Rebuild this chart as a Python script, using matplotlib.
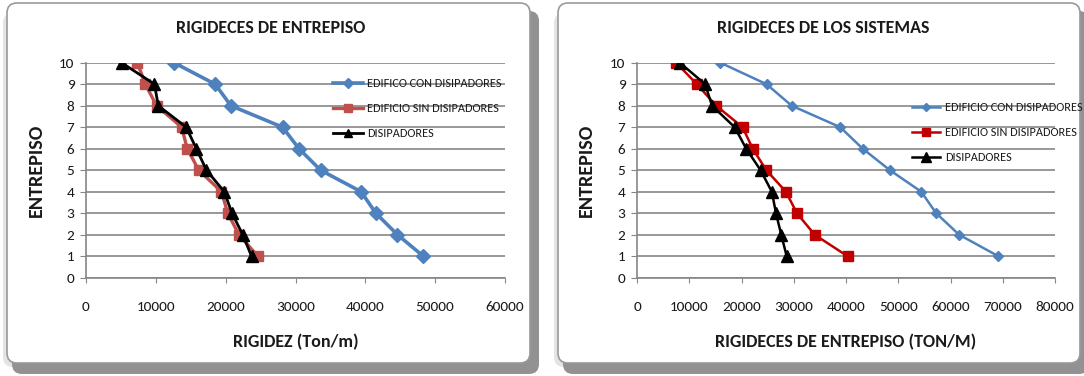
import matplotlib
matplotlib.use("Agg")
import matplotlib.pyplot as plt
from matplotlib.patches import FancyBboxPatch
import logging
logging.getLogger('matplotlib.font_manager').setLevel(logging.ERROR)

CAL = ['Carlito', 'IBM Plex Sans Condensed', 'Liberation Sans', 'DejaVu Sans']
plt.rcParams['font.family'] = CAL

# ---------------- data ----------------
pisos = [10, 9, 8, 7, 6, 5, 4, 3, 2, 1]

# Chart 1: RIGIDECES DE ENTREPISO
e_con = [12600, 18500, 20750, 28150, 30500, 33600, 39400, 41500, 44600, 48300]
e_sin = [7350, 8500, 10100, 13700, 14500, 16150, 19400, 20300, 21900, 24600]
e_dis = [5100, 9800, 10350, 14350, 15800, 17250, 19800, 20900, 22450, 23700]

# Chart 2: RIGIDECES DE LOS SISTEMAS
s_con = [15950, 24800, 29600, 38900, 43200, 48400, 54400, 57250, 61650, 69150]
s_sin = [7500, 11450, 15150, 20200, 22150, 24750, 28500, 30600, 34000, 40300]
s_dis = [8200, 13050, 14350, 18700, 20900, 23650, 25800, 26600, 27600, 28650]

y_ticks = [0, 1, 2, 3, 4, 5, 6, 7, 8, 9, 10]
x_ticks_1 = [0, 10000, 20000, 30000, 40000, 50000, 60000]
x_ticks_2 = [0, 10000, 20000, 30000, 40000, 50000, 60000, 70000, 80000]

labels_1 = ["EDIFICO CON DISIPADORES", "EDIFICIO SIN DISIPADORES", "DISIPADORES"]
labels_2 = ["EDIFICIO CON DISIPADORES", "EDIFICIO SIN DISIPADORES", "DISIPADORES"]

W, H = 1084, 376
fig = plt.figure(figsize=(W / 100, H / 100), dpi=100)
fig.patch.set_facecolor('white')

# ---------------- panel backgrounds ----------------
bg = fig.add_axes([0, 0, 1, 1], zorder=-10)
bg.set_xlim(0, W)
bg.set_ylim(H, 0)
bg.axis('off')


def panel(x0, y0, x1, y1):
    soft = FancyBboxPatch((x0 - 4, y0 + 10), x1 - x0, y1 - y0 - 6,
                          boxstyle='round,pad=0,rounding_size=10',
                          fc='#E4E4E4', ec='none')
    shadow = FancyBboxPatch((x0 + 5, y0 + 8), x1 - x0 + 4, y1 - y0 + 3,
                            boxstyle='round,pad=0,rounding_size=10',
                            fc='#929292', ec='none')
    box = FancyBboxPatch((x0, y0), x1 - x0, y1 - y0,
                         boxstyle='round,pad=0,rounding_size=10',
                         fc='white', ec='#9A9A9A', lw=1.2)
    for p in (soft, shadow, box):
        bg.add_patch(p)


panel(7, 3, 530, 363)
panel(558, 3, 1080, 363)

BLUE = '#4F81BD'
GRID = '#868686'
TXT = '#1A1A1A'


def style_axes(ax, xticks, xmax):
    ax.set_xlim(0, xmax)
    ax.set_ylim(0, 10)
    ax.set_xticks(xticks)
    ax.set_yticks(y_ticks)
    ax.yaxis.grid(True, color=GRID, lw=1.2)
    ax.xaxis.grid(False)
    ax.set_axisbelow(True)
    for s in ('top', 'right'):
        ax.spines[s].set_visible(False)
    for s in ('left', 'bottom'):
        ax.spines[s].set_color(GRID)
        ax.spines[s].set_linewidth(1.2)
    ax.tick_params(axis='x', direction='out', length=3.8, color=GRID,
                   pad=13.0, labelsize=11, labelcolor=TXT)
    ax.tick_params(axis='y', direction='out', length=4.3, color=GRID,
                   pad=4.0, labelsize=11, labelcolor=TXT)
    ax.set_facecolor('none')


# ---------------- chart 1 ----------------
ax1 = fig.add_axes([86 / W, 1 - 277.7 / H, (505 - 86) / W, 215 / H])
style_axes(ax1, x_ticks_1, 60000)
l1, = ax1.plot(e_con, pisos, color=BLUE, lw=2.6, marker='D', ms=7.5,
               mec=BLUE, mfc=BLUE, label=labels_1[0], zorder=3)
l2, = ax1.plot(e_sin, pisos, color='#C0504D', lw=2.4, marker='s', ms=7.5,
               mec='#C0504D', mfc='#C0504D', label=labels_1[1], zorder=4)
l3, = ax1.plot(e_dis, pisos, color='black', lw=2.0, marker='^', ms=8.5,
               mec='black', mfc='black', label=labels_1[2], zorder=5)
ax1.set_xlabel('RIGIDEZ (Ton/m)', fontweight='bold', fontsize=13,
               va='center', color=TXT)
ax1.xaxis.set_label_coords(0.5, -(341.7 - 277.7) / 215)
ax1.set_ylabel('ENTREPISO', fontweight='bold', fontsize=14.5,
               va='center', color=TXT)
ax1.yaxis.set_label_coords(-49.3 / 419, 0.5)
leg1 = ax1.legend(handles=[l1, l2, l3], loc='center left',
                  bbox_to_anchor=(333 / W, 1 - 108.7 / H),
                  bbox_transform=fig.transFigure, frameon=False,
                  prop={'size': 8.8},
                  handlelength=2.45, handletextpad=0.36, labelspacing=1.15,
                  borderpad=0, borderaxespad=0, markerscale=0.7)
for t in leg1.get_texts():
    t.set_color(TXT)
fig.text(271 / W, 1 - 28.3 / H, 'RIGIDECES DE ENTREPISO',
         fontweight='bold', fontsize=13, ha='center', va='center', color=TXT)

# ---------------- chart 2 ----------------
ax2 = fig.add_axes([637 / W, 1 - 277.7 / H, (1055 - 637) / W, 215 / H])
style_axes(ax2, x_ticks_2, 80000)
m1, = ax2.plot(s_con, pisos, color=BLUE, lw=1.8, marker='D', ms=5,
               mec=BLUE, mfc=BLUE, label=labels_2[0], zorder=3)
m2, = ax2.plot(s_sin, pisos, color='#C00000', lw=1.8, marker='s', ms=7,
               mec='#C00000', mfc='#C00000', label=labels_2[1], zorder=4)
m3, = ax2.plot(s_dis, pisos, color='black', lw=1.8, marker='^', ms=8.5,
               mec='black', mfc='black', label=labels_2[2], zorder=5)
ax2.set_xlabel('RIGIDECES DE ENTREPISO (TON/M)',
               fontweight='bold', fontsize=13, va='center', color=TXT)
ax2.xaxis.set_label_coords(0.5, -(341.7 - 277.7) / 215)
ax2.set_ylabel('ENTREPISO', fontweight='bold', fontsize=14.5,
               va='center', color=TXT)
ax2.yaxis.set_label_coords(-51 / 418, 0.5)
leg2 = ax2.legend(handles=[m1, m2, m3], loc='center left',
                  bbox_to_anchor=(911.5 / W, 1 - 132.7 / H),
                  bbox_transform=fig.transFigure, frameon=False,
                  prop={'size': 8.8},
                  handlelength=2.35, handletextpad=0.4, labelspacing=1.15,
                  borderpad=0, borderaxespad=0, markerscale=0.8)
for t in leg2.get_texts():
    t.set_color(TXT)
fig.text(823 / W, 1 - 28.3 / H, 'RIGIDECES DE LOS SISTEMAS',
         fontweight='bold', fontsize=13, ha='center', va='center', color=TXT)

fig.savefig('out.png', dpi=100, facecolor='white')
